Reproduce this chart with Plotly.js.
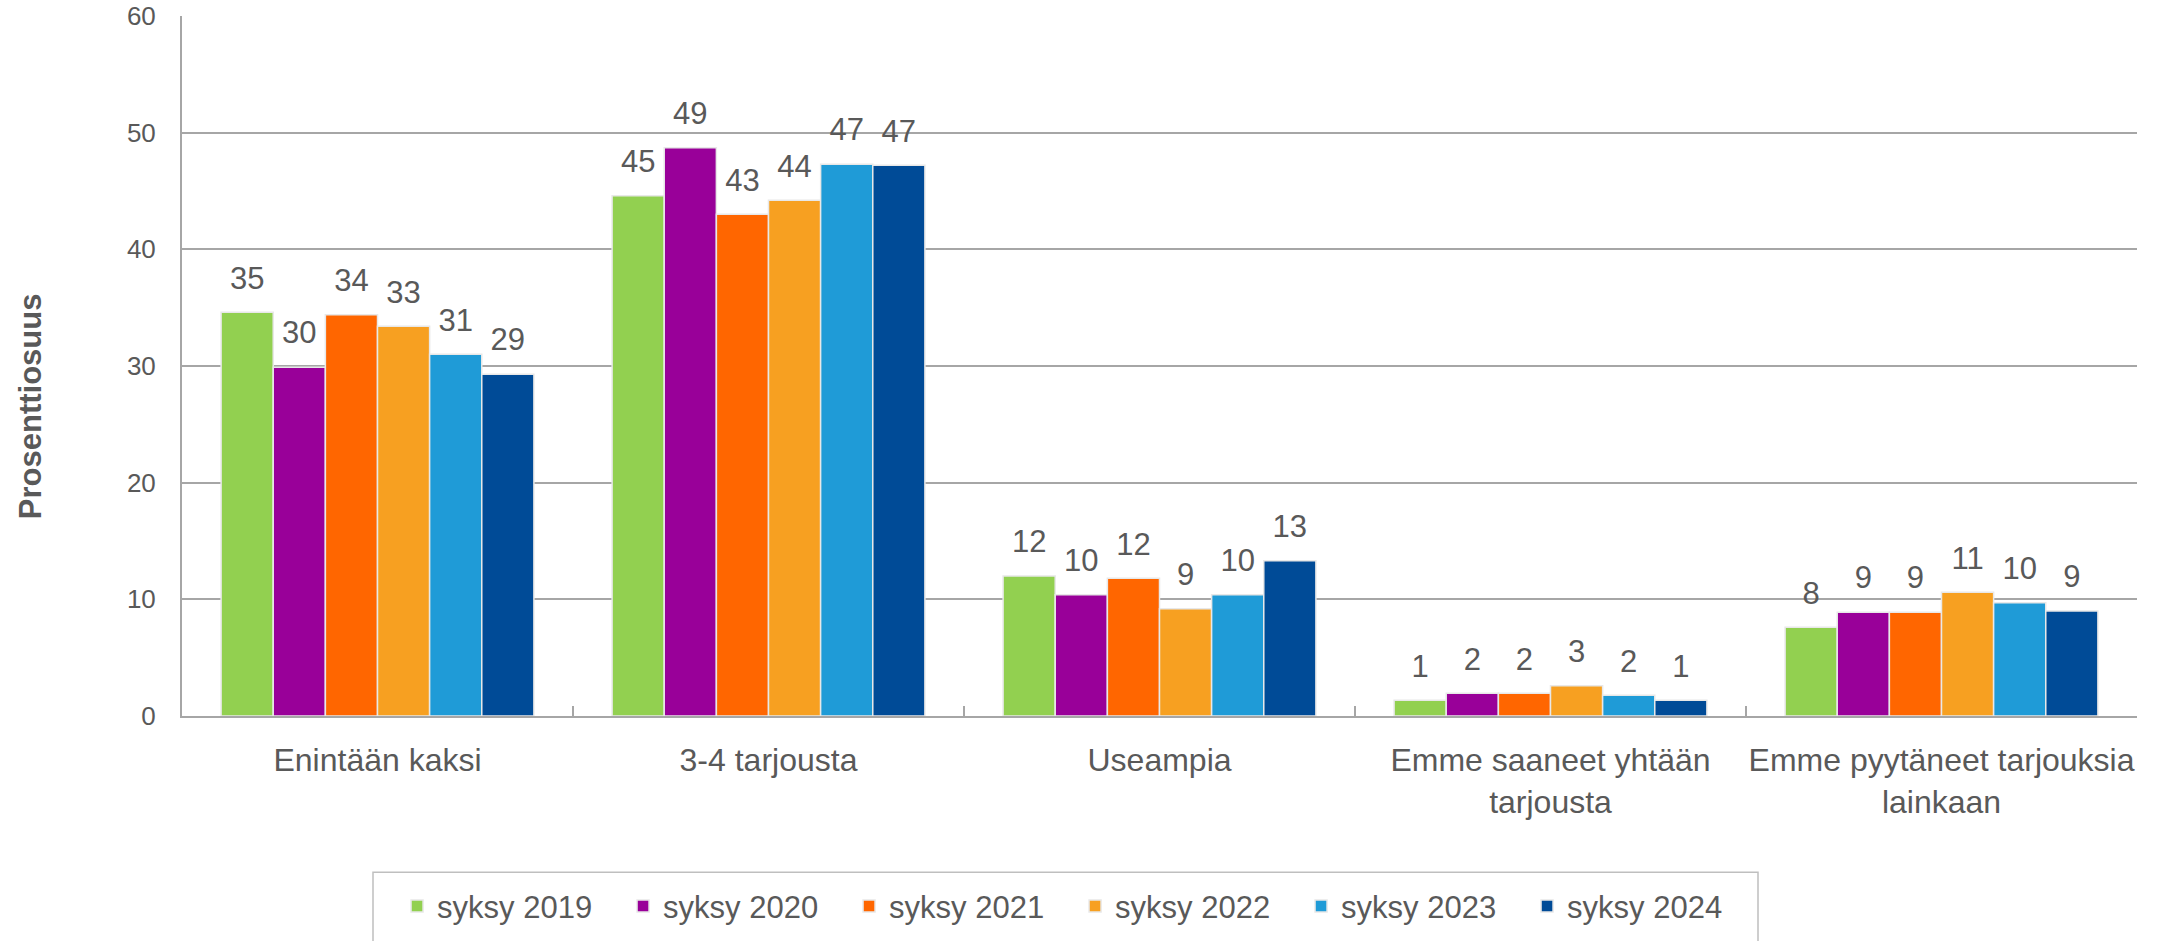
<!DOCTYPE html>
<html>
<head>
<meta charset="utf-8">
<script src="https://cdn.plot.ly/plotly-3.0.1.min.js"></script>
<style>
html,body{margin:0;padding:0;background:#fff;}
#chart{width:2157px;height:941px;}
</style>
</head>
<body>
<div id="chart"></div>
<script>
var categories = ["Enintään kaksi", "3-4 tarjousta", "Useampia", "Emme saaneet yhtään<br>tarjousta", "Emme pyytäneet tarjouksia<br>lainkaan"];
var seriesNames = ["syksy 2019", "syksy 2020", "syksy 2021", "syksy 2022", "syksy 2023", "syksy 2024"];
var syksy2019 = [34.6, 44.6, 12.0, 1.35, 7.6];
var syksy2020 = [29.9, 48.7, 10.4, 1.95, 8.9];
var syksy2021 = [34.4, 43.0, 11.8, 1.95, 8.9];
var syksy2022 = [33.4, 44.2, 9.2, 2.6, 10.6];
var syksy2023 = [31.0, 47.3, 10.4, 1.77, 9.7];
var syksy2024 = [29.3, 47.2, 13.3, 1.35, 9.0];
var yTicks = [0, 10, 20, 30, 40, 50, 60];
var yTitle = "Prosenttiosuus";

var seriesValues = [syksy2019, syksy2020, syksy2021, syksy2022, syksy2023, syksy2024];
var colors = ["#92D050", "#990099", "#FF6600", "#F7A021", "#1F9BD7", "#004B97"];
var FONT = "Liberation Sans, Arial, sans-serif";
var TXT = "#595959";

var traces = [];
seriesValues.forEach(function(vals, i) {
  traces.push({
    type: "bar",
    name: seriesNames[i],
    x: categories,
    y: vals,
    offsetgroup: "g" + i,
    marker: {color: colors[i], line: {color: "#E8E8E8", width: 1.5}},
    hoverinfo: "skip"
  });
});
seriesValues.forEach(function(vals, i) {
  traces.push({
    type: "scatter",
    mode: "markers+text",
    x: categories,
    y: vals,
    offsetgroup: "g" + i,
    showlegend: false,
    marker: {size: 24, opacity: 0, color: colors[i]},
    texttemplate: "%{y:.0f}",
    textposition: "top center",
    textfont: {family: FONT, size: 31, color: TXT},
    cliponaxis: false,
    hoverinfo: "skip"
  });
});

var layout = {
  width: 2157,
  height: 941,
  paper_bgcolor: "#ffffff",
  plot_bgcolor: "#ffffff",
  margin: {l: 182, r: 20, t: 16, b: 225, autoexpand: false},
  barmode: "group",
  bargap: 0.2,
  bargroupgap: 0,
  scattermode: "group",
  scattergap: 0.2,
  font: {family: FONT, color: TXT},
  showlegend: true,
  xaxis: {
    type: "category",
    showgrid: false,
    showline: true,
    linecolor: "#A6A6A6",
    linewidth: 2,
    ticks: "inside",
    tickson: "boundaries",
    ticklen: 10,
    tickwidth: 2,
    tickcolor: "#A6A6A6",
    tickangle: 0,
    tickfont: {family: FONT, size: 32, color: TXT},
    ticklabelstandoff: 15,
    automargin: false
  },
  yaxis: {
    range: [0, 60],
    tickvals: yTicks,
    ticktext: yTicks.map(String),
    showgrid: true,
    gridcolor: "#A6A6A6",
    gridwidth: 2,
    showline: true,
    linecolor: "#A6A6A6",
    linewidth: 2,
    ticks: "",
    zeroline: false,
    tickfont: {family: FONT, size: 26, color: TXT},
    ticklabelstandoff: 19,
    automargin: false
  },
  annotations: [{
    text: "<b>" + yTitle + "</b>",
    xref: "paper",
    yref: "paper",
    x: (30 - 182) / 1955,
    y: (715.7 - 406) / 699.7,
    xanchor: "center",
    yanchor: "middle",
    textangle: -90,
    showarrow: false,
    font: {family: FONT, size: 31, color: TXT}
  }],
  legend: {
    orientation: "h",
    x: 0.11,
    xanchor: "left",
    y: -0.272,
    yanchor: "middle",
    font: {family: FONT, size: 31, color: TXT},
    entrywidth: 181,
    entrywidthmode: "pixels",
    bgcolor: "rgba(0,0,0,0)",
    borderwidth: 0,
    traceorder: "normal"
  },
  shapes: [{
    type: "rect",
    xref: "paper",
    yref: "paper",
    x0: (373 - 182) / 1955,
    x1: (1758 - 182) / 1955,
    y0: (715.7 - 872) / 699.7,
    y1: (715.7 - 950) / 699.7,
    line: {color: "#BFBFBF", width: 1.5},
    fillcolor: "rgba(0,0,0,0)",
    layer: "below"
  }]
};

Plotly.newPlot("chart", traces, layout, {staticPlot: true, displayModeBar: false});
</script>
</body>
</html>
